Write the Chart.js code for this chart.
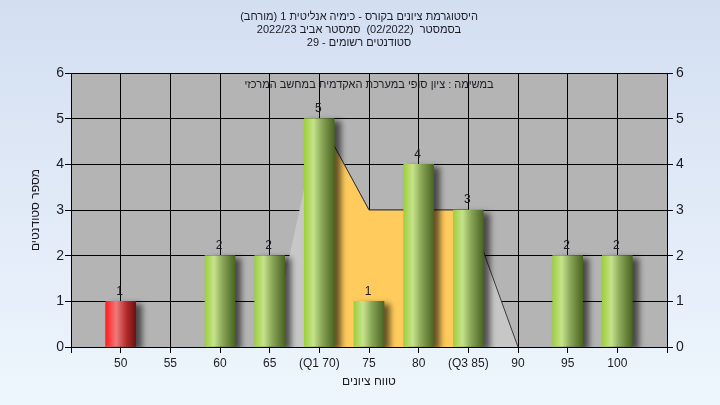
<!DOCTYPE html>
<html lang="he">
<head>
<meta charset="utf-8">
<title>היסטוגרמת ציונים</title>
<script src="https://cdn.jsdelivr.net/npm/chart.js@4/dist/chart.umd.min.js"></script>
<style>
    html, body { margin: 0; padding: 0; background: #e4edf8; }
    #wrap { width: 720px; height: 405px; position: relative; }
</style>
</head>
<body>
<div id="wrap"><canvas id="graficoHistograma"></canvas></div>
<script>
// datos
const tickValues = [50, 55, 60, 65, 70, 75, 80, 85, 90, 95, 100];
const tickLabels = ['50', '55', '60', '65', '(Q1 70)', '75', '80', '(Q3 85)', '90', '95', '100'];
const counts = [1, 0, 2, 2, 5, 1, 4, 3, 0, 2, 2];

// curva de fondo (gris) y banda entre Q1 y Q3 (amarillo)
const curveX = [65, 70, 75, 80, 85, 90];
const curveY = [0, 5, 3, 3, 3, 0];
const bandX = [70, 75, 80, 85];
const bandY = [5, 3, 3, 3];

const titleLines = [
    'היסטוגרמת ציונים בקורס - כימיה אנליטית 1 (מורחב)',
    'בסמסטר  (02/2022)  סמסטר אביב 2022/23',
    'סטודנטים רשומים - 29'
];
const legendText = 'במשימה : ציון סופי במערכת האקדמית במחשב המרכזי';
const xTitle = 'טווח ציונים';
const yTitle = 'מספר סטודנטים';
const passMark = 55;

const FONT = "'Liberation Sans', Arial, sans-serif";
const TXT = '#1b1b24';

let chartHist = null;

// solo las barras con alumnos (las de 0 no se dibujan)
const barPoints = tickValues
    .map((v, i) => ({ x: v, y: counts[i] }))
    .filter((p) => p.y > 0);

function barGradient(ctx) {
    const chart = ctx.chart;
    const xs = chart.scales.x;
    if (!xs || !chart.chartArea || ctx.type !== 'data') return '#9ccc3c';
    const v = ctx.raw.x;
    const cx = xs.getPixelForValue(v);
    const g = chart.ctx.createLinearGradient(cx - 15, 0, cx + 15, 0);
    if (v < passMark) {
        g.addColorStop(0, '#ff1c1c');
        g.addColorStop(0.35, '#f07a7a');
        g.addColorStop(0.7, '#b02a2a');
        g.addColorStop(1, '#701010');
    } else {
        g.addColorStop(0, '#9ecf3e');
        g.addColorStop(0.3, '#c6e38b');
        g.addColorStop(0.6, '#87a457');
        g.addColorStop(1, '#4a6520');
    }
    return g;
}

// fondo degradado + area gris del grafico
const fondoPlugin = {
    id: 'fondo',
    beforeDraw(chart) {
        const { ctx, width, height, chartArea: a } = chart;
        ctx.save();
        const g = ctx.createLinearGradient(0, 0, 0, height);
        g.addColorStop(0, '#d3def1');
        g.addColorStop(1, '#eef6fd');
        ctx.fillStyle = g;
        ctx.fillRect(0, 0, width, height);
        ctx.fillStyle = '#b4b4b4';
        ctx.fillRect(a.left, a.top, a.right - a.left, a.bottom - a.top);
        ctx.restore();
    }
};

// sombra de las barras
const sombraPlugin = {
    id: 'sombra',
    beforeDatasetDraw(chart, args) {
        if (args.index !== 0) return;
        const ctx = chart.ctx;
        ctx.save();
        ctx.shadowColor = 'rgba(0,0,0,0.6)';
        ctx.shadowBlur = 6;
        ctx.shadowOffsetX = 6;
        ctx.shadowOffsetY = 3;
    },
    afterDatasetDraw(chart, args) {
        if (args.index !== 0) return;
        chart.ctx.restore();
    }
};

// textos: titulo, leyenda, valores sobre las barras
const textosPlugin = {
    id: 'textos',
    afterDraw(chart) {
        const ctx = chart.ctx;
        ctx.save();
        ctx.fillStyle = TXT;
        ctx.font = '11px ' + FONT;
        ctx.textAlign = 'center';
        ctx.textBaseline = 'middle';
        titleLines.forEach((t, i) => ctx.fillText(t, 359, 17 + i * 13));
        ctx.fillText(legendText, 369, 85);

        const meta = chart.getDatasetMeta(0);
        ctx.font = '12px ' + FONT;
        ctx.textBaseline = 'bottom';
        meta.data.forEach((el, i) => {
            ctx.fillText(String(barPoints[i].y), el.x - 1, el.y - 4);
        });
        ctx.restore();
    }
};

function fixSize(w, h) {
    return (axis) => {
        if (w != null) axis.width = w;
        if (h != null) axis.height = h;
    };
}

function initHistograma() {
    const ctx = document.getElementById('graficoHistograma');
    if (chartHist) chartHist.destroy();

    chartHist = new Chart(ctx, {
        type: 'bar',
        data: {
            datasets: [{
                type: 'bar',
                data: barPoints,
                backgroundColor: barGradient,
                borderWidth: 0,
                barThickness: 30,
                order: 0
            }, {
                type: 'line',
                data: bandX.map((v, i) => ({ x: v, y: bandY[i] })),
                fill: 'origin',
                backgroundColor: '#ffcb5c',
                borderColor: '#3a3a3a',
                borderWidth: 1,
                pointRadius: 0,
                tension: 0,
                order: 1
            }, {
                type: 'line',
                data: curveX.map((v, i) => ({ x: v, y: curveY[i] })),
                fill: 'origin',
                backgroundColor: '#c7c7c7',
                borderColor: '#3a3a3a',
                borderWidth: 1,
                pointRadius: 0,
                tension: 0,
                segment: {
                    borderColor: (s) => s.p0.parsed.x < 70 ? 'rgba(0,0,0,0)' : '#3a3a3a'
                },
                order: 2
            }]
        },
        options: {
            responsive: true,
            maintainAspectRatio: false,
            animation: false,
            layout: { padding: { top: 73, left: 0, right: 0, bottom: 0 } },
            plugins: {
                legend: { display: false },
                tooltip: { enabled: false },
                title: { display: false }
            },
            scales: {
                x: {
                    type: 'linear',
                    min: 45,
                    max: 105,
                    offset: false,
                    afterFit: fixSize(null, 58),
                    ticks: {
                        stepSize: 5,
                        autoSkip: false,
                        maxRotation: 0,
                        padding: 3,
                        color: TXT,
                        font: { family: FONT, size: 12 },
                        callback: (v) => {
                            const i = tickValues.indexOf(v);
                            return i >= 0 ? tickLabels[i] : '';
                        }
                    },
                    grid: { offset: false, color: '#000', lineWidth: 1, tickLength: 6, tickColor: '#000' },
                    border: { color: '#000', width: 1 },
                    title: {
                        display: true,
                        text: xTitle,
                        color: TXT,
                        font: { family: FONT, size: 12 },
                        padding: { top: 0, bottom: 16 }
                    }
                },
                y: {
                    position: 'left',
                    min: 0,
                    max: 6,
                    afterFit: fixSize(71, null),
                    ticks: {
                        stepSize: 1,
                        padding: 1,
                        color: TXT,
                        font: { family: FONT, size: 14 }
                    },
                    grid: { color: '#000', lineWidth: 1, tickLength: 6, tickColor: '#000' },
                    border: { color: '#000', width: 1 },
                    title: {
                        display: true,
                        text: yTitle,
                        color: TXT,
                        font: { family: FONT, size: 12 },
                        padding: { top: 28, bottom: 0 }
                    }
                },
                y2: {
                    position: 'right',
                    min: 0,
                    max: 6,
                    afterFit: fixSize(53, null),
                    ticks: {
                        stepSize: 1,
                        padding: 3,
                        color: TXT,
                        font: { family: FONT, size: 14 }
                    },
                    grid: { drawOnChartArea: false, tickLength: 6, tickColor: '#000' },
                    border: { color: '#000', width: 1 }
                }
            }
        },
        plugins: [fondoPlugin, sombraPlugin, textosPlugin]
    });
}

document.addEventListener('DOMContentLoaded', initHistograma);
</script>
</body>
</html>
